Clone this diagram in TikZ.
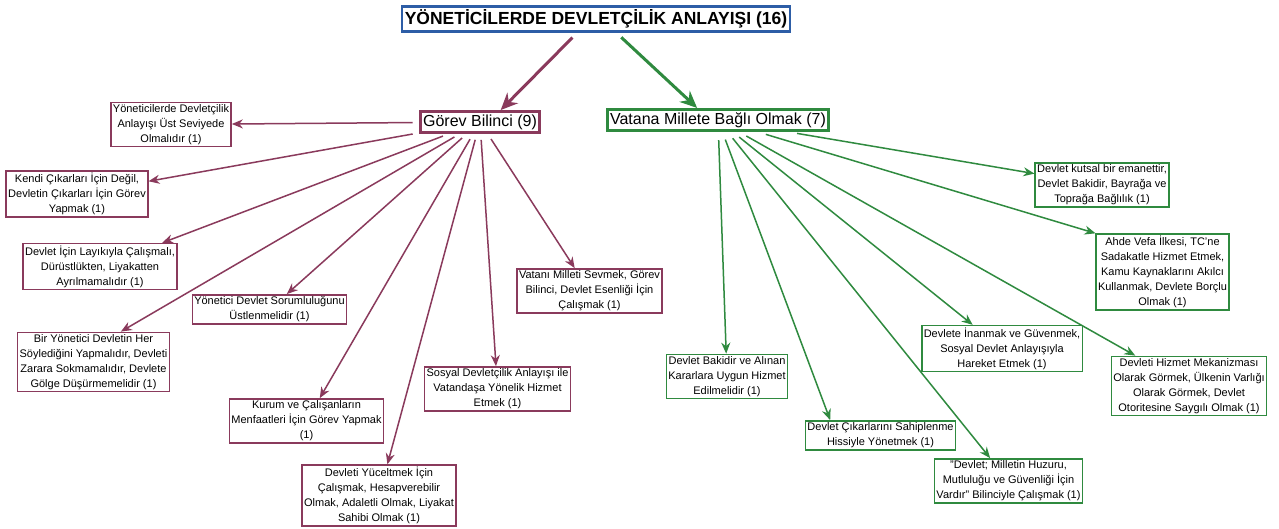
\documentclass[tikz,border=0pt]{standalone}
\usepackage{fontspec}
\setmainfont{Liberation Sans}
\usetikzlibrary{arrows.meta}
\definecolor{gorevc}{HTML}{8A3A5C}
\definecolor{vatanc}{HTML}{2F8A3F}
\definecolor{titlec}{HTML}{2D5DA6}
\tikzset{
  tbox/.style  = {draw=titlec, line width=2.5pt, fill=white, inner xsep=3pt, inner ysep=3pt,
                  font=\fontsize{17.5}{20}\selectfont\bfseries},
  mhead/.style = {draw=gorevc, line width=3pt, fill=white, inner xsep=3pt, inner ysep=3pt,
                  font=\fontsize{16}{18}\selectfont},
  ghead/.style = {draw=vatanc, line width=3pt, fill=white, inner xsep=3pt, inner ysep=3pt,
                  font=\fontsize{16}{18}\selectfont},
  mbox/.style  = {draw=gorevc, line width=1.5pt, fill=white, align=center, inner xsep=2pt,
                  inner ysep=2pt, font=\fontsize{11}{15}\selectfont},
  gbox/.style  = {draw=vatanc, line width=1.5pt, fill=white, align=center, inner xsep=2pt,
                  inner ysep=2pt, font=\fontsize{11}{15}\selectfont},
  mar/.style   = {draw=gorevc, line width=1.5pt, -{Stealth[length=11pt, width=9pt]}, shorten <=6pt},
  gar/.style   = {draw=vatanc, line width=1.5pt, -{Stealth[length=11pt, width=9pt]}, shorten <=8pt},
  mbig/.style  = {draw=gorevc, line width=3pt, -{Stealth[length=17pt, width=15pt]}, shorten <=7pt},
  gbig/.style  = {draw=vatanc, line width=3pt, -{Stealth[length=17pt, width=15pt]}, shorten <=7pt},
}
\begin{document}
\begin{tikzpicture}[x=1pt, y=-1pt]
  \fill[white] (0,0) rectangle (1279,528);
  \useasboundingbox (0,0) rectangle (1279,528);
  % top
  \node[tbox] (top) at (596,19) {YÖNETİCİLERDE DEVLETÇİLİK ANLAYIŞI (16)};
  \node[mhead] (gb) at (480,122) {Görev Bilinci (9)};
  \node[ghead] (vm) at (718,120) {Vatana Millete Bağlı Olmak (7)};
  \draw[mbig] (top.216) -- (gb.30);
  \draw[gbig] (top.326) -- (vm.150);
  % Gorev Bilinci
  \node[mbox] (g1) at (171,124.5) {Yöneticilerde Devletçilik\\Anlayışı Üst Seviyede\\Olmalıdır (1)};
  \node[mbox] (g2) at (77,194) {Kendi Çıkarları İçin Değil,\\Devletin Çıkarları İçin Görev\\Yapmak (1)};
  \node[mbox] (g3) at (100,266.5) {Devlet İçin Layıkıyla Çalışmalı,\\Dürüstlükten, Liyakatten\\Ayrılmamalıdır (1)};
  \node[mbox] (g4) at (269.5,309.5) {Yönetici Devlet Sorumluluğunu\\Üstlenmelidir (1)};
  \node[mbox] (g5) at (93.5,362) {Bir Yönetici Devletin Her\\Söylediğini Yapmalıdır, Devleti\\Zarara Sokmamalıdır, Devlete\\Gölge Düşürmemelidir (1)};
  \node[mbox] (g6) at (306.5,421) {Kurum ve Çalışanların\\Menfaatleri İçin Görev Yapmak\\(1)};
  \node[mbox] (g7) at (379,495.5) {Devleti Yüceltmek İçin\\Çalışmak, Hesapverebilir\\Olmak, Adaletli Olmak, Liyakat\\Sahibi Olmak (1)};
  \node[mbox] (g8) at (497.5,389) {Sosyal Devletçilik Anlayışı ile\\Vatandaşa Yönelik Hizmet\\Etmek (1)};
  \node[mbox] (g9) at (589.5,291) {Vatanı Milleti Sevmek, Görev\\Bilinci, Devlet Esenliği İçin\\Çalışmak (1)};
  \draw[mar] (gb) -- (g1);
  \draw[mar] (gb) -- (g2);
  \draw[mar] (gb) -- (g3);
  \draw[mar] (gb) -- (g4);
  \draw[mar] (gb) -- (g5.48);
  \draw[mar] (gb) -- (g6);
  \draw[mar] (gb) -- (g7);
  \draw[mar] (gb) -- (g8);
  \draw[mar] (gb) -- (g9);
  % Vatana Millete
  \node[gbox] (v1) at (1102,185) {Devlet kutsal bir emanettir,\\Devlet Bakidir, Bayrağa ve\\Toprağa Bağlılık (1)};
  \node[gbox] (v2) at (1162.5,272) {Ahde Vefa İlkesi, TC'ne\\Sadakatle Hizmet Etmek,\\Kamu Kaynaklarını Akılcı\\Kullanmak, Devlete Borçlu\\Olmak (1)};
  \node[gbox] (v3) at (1189,386) {Devleti Hizmet Mekanizması\\Olarak Görmek, Ülkenin Varlığı\\Olarak Görmek, Devlet\\Otoritesine Saygılı Olmak (1)};
  \node[gbox] (v4) at (1002,348.5) {Devlete İnanmak ve Güvenmek,\\Sosyal Devlet Anlayışıyla\\Hareket Etmek (1)};
  \node[gbox] (v5) at (727,376.5) {Devlet Bakidir ve Alınan\\Kararlara Uygun Hizmet\\Edilmelidir (1)};
  \node[gbox] (v6) at (880.5,435.5) {Devlet Çıkarlarını Sahiplenme\\Hissiyle Yönetmek (1)};
  \node[gbox] (v7) at (1008.5,481) {"Devlet; Milletin Huzuru,\\Mutluluğu ve Güvenliği İçin\\Vardır" Bilinciyle Çalışmak (1)};
  \draw[gar] (vm) -- (v1);
  \draw[gar] (vm) -- (v2.150);
  \draw[gar] (vm) -- (v3);
  \draw[gar] (vm) -- (v4);
  \draw[gar] (vm) -- (v5);
  \draw[gar] (vm) -- (v6.163);
  \draw[gar] (vm) -- (v7);
\end{tikzpicture}
\end{document}
